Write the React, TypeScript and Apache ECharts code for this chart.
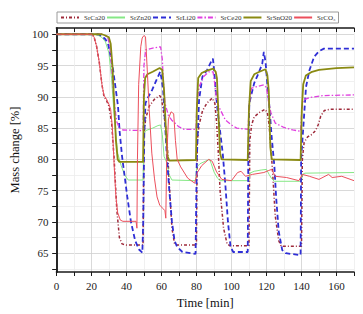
import React, { useEffect, useRef } from "react";
import * as echarts from "echarts";

const seriesNames = ["SrCa20", "SrZn20", "SrLi20", "SrCe20", "SrSnO20", "SrCO₃"];

const xLabelValues = [0, 20, 40, 60, 80, 100, 120, 140, 160];
const yLabelValues = [65, 70, 75, 80, 85, 90, 95, 100];
const yTickValues = [62.5, 65, 67.5, 70, 72.5, 75, 77.5, 80, 82.5, 85, 87.5, 90, 92.5, 95, 97.5, 100];

const srCa20 = [
  [0, 100], [20, 100], [21.5, 99.6], [23, 98], [24.5, 95.5], [26, 92], [27.2, 90], [28.5, 89.5], [30, 88.5],
  [31.5, 86], [33, 80], [34.5, 72], [36, 67.5], [37.5, 66.5], [40, 66.3], [49.5, 66.3], [50, 84], [51, 86.5],
  [53, 88.5], [56, 89.6], [59, 90.2], [60, 89.8], [61.5, 87], [63, 84], [64.5, 76], [66, 69], [67.5, 66.5],
  [69, 66.3], [80, 66.3], [80.5, 83], [81.5, 85.5], [83.5, 87.8], [86, 89], [89, 89.8], [90.5, 89], [91.5, 86],
  [92.5, 81], [93.5, 75], [95.5, 69], [97.5, 66.5], [99, 66.2], [110, 66.2], [110.5, 83], [111.5, 85.5],
  [113, 86.8], [116, 87.5], [119, 88], [120.5, 87.5], [121.5, 85.5], [122.5, 82], [123.5, 78], [125, 71],
  [127, 67], [128.5, 66.1], [140, 66.1], [140.5, 80], [141.5, 82.7], [143.5, 83.6], [146, 84], [148, 84.6],
  [149.5, 85.5], [151, 86.9], [153, 87.8], [156, 88], [170, 88],
];

const srZn20 = [
  [0, 100], [22, 100], [24, 99.8], [26, 99.5], [28, 98.8], [30, 97], [31.5, 93], [33, 87], [35, 81],
  [37, 79], [39, 77.5], [41, 76.7], [49.5, 76.7], [50, 84], [51, 84.6], [55, 85], [58, 85.4], [59.5, 85.5],
  [60.5, 84], [61.5, 80.5], [63, 79.5], [64.5, 77.5], [66, 76.7], [79.5, 76.6], [80.2, 78.8], [82, 79.3],
  [85, 79.7], [87.5, 80], [88.5, 79.3], [90, 78], [92, 77], [93.5, 76.6], [110, 76.6], [110.5, 77.8],
  [113, 78.1], [117, 78.3], [120, 78.4], [121.5, 77.6], [123, 76.9], [124.5, 76.5], [140, 76.5],
  [140.5, 77.6], [142, 77.8], [170, 77.9],
];

const srLi20 = [
  [0, 100], [24, 100], [26, 99.7], [28, 99.2], [29.5, 98.5], [31, 96.5], [32.4, 94.3], [34, 91], [35.2, 88.5],
  [36.1, 84.5], [37.5, 80.5], [38.9, 77.5], [40.5, 74], [42.6, 70], [45, 67], [47.2, 65.6], [49.1, 65.1],
  [49.6, 70], [50.2, 84], [50.9, 89], [52.5, 90], [54.7, 91.1], [57, 92.6], [59.3, 94], [60, 93],
  [61, 91], [62, 86], [63, 81], [64.5, 75], [66, 70], [67.5, 67], [69, 66], [72, 65.2], [79.5, 64.9],
  [80.2, 80], [81.5, 89.5], [83.4, 93.2], [86.1, 94.3], [88.9, 95.9], [89.4, 96.1], [90, 94.5], [91, 91],
  [92, 88], [93.5, 84.5], [95, 81], [96.5, 76], [98, 70], [99.5, 66], [101, 65.2], [109.3, 65.2],
  [109.6, 80], [110.2, 89], [113, 92.2], [115.5, 93.8], [117.6, 95.3], [118.5, 97.2], [119.5, 95.5],
  [120.5, 92], [121.5, 89], [123, 83.5], [124.5, 79], [125.5, 74], [127, 68.5], [129, 65.5], [131, 65],
  [139.5, 64.7], [139.8, 80], [142.6, 91.6], [144.5, 94.2], [147.2, 96.4], [150, 97.3], [152.8, 97.7],
  [170, 97.7],
];

const srCe20 = [
  [0, 100], [26, 100], [28, 99.8], [29.5, 99.3], [30.5, 98], [31.5, 95], [32.5, 91], [33.5, 88], [34.5, 86],
  [36, 85], [38, 84.7], [49.5, 84.6], [50, 95], [51, 97.5], [55, 97.8], [59.5, 98], [60.5, 96], [61.2, 92],
  [62, 89], [64, 87], [65.8, 86.3], [70, 85.2], [73, 84.8], [79.7, 84.8], [80.3, 89], [81.5, 91.6],
  [84, 93.2], [87, 94], [89.5, 94], [90.5, 92], [91.5, 89.5], [93, 88.3], [96.5, 86.3], [100, 85.5],
  [103, 85], [109.5, 84.8], [110.2, 89], [111.5, 91.4], [114, 91.6], [118.5, 91.9], [120, 91.5],
  [121, 89.5], [122.5, 87.5], [125, 85.8], [130, 85.1], [135, 84.7], [139.5, 84.5], [140.2, 88],
  [141, 89.5], [145, 89.9], [152, 90.2], [170, 90.3],
];

const srSnO20 = [
  [0, 100], [26, 100], [28, 99.8], [30, 99.5], [31, 98.5], [32, 95], [33, 89], [34, 83], [35, 80],
  [36, 79.6], [49.5, 79.6], [50, 90], [50.7, 93], [52, 93.6], [55, 94], [59, 94.6], [60.5, 94.3],
  [61.5, 91], [62.5, 85], [63.5, 80.5], [64.5, 79.8], [79.7, 79.9], [80.2, 88], [81, 93], [83, 93.8],
  [86, 94.2], [89.6, 94.5], [91, 94], [91.7, 93], [92.6, 87], [93.5, 81], [94.4, 80], [109.3, 79.9],
  [110, 88], [111, 92.5], [113, 93.6], [116, 94], [119.4, 94.4], [120.5, 93.5], [121.3, 91],
  [122.2, 82], [123, 80], [139.5, 79.9], [140.2, 88], [141, 92], [142.5, 93.4], [146, 94], [150, 94.3],
  [160, 94.6], [170, 94.7],
];

const srCO3 = [
  [0, 100], [20, 100], [21.5, 99.6], [23, 98], [24.5, 95.5], [26, 92], [27.2, 90.2], [28.5, 89.7],
  [30, 88.8], [31, 88], [32, 85], [33, 79], [34, 74], [35, 71.5], [36.5, 70.3], [38, 70.1], [45.5, 70.1],
  [46, 69], [46.3, 80], [47, 92], [48.2, 98], [49, 99.4], [50, 99.8], [50.9, 99.6], [51.9, 94.3],
  [53, 88], [54.5, 81], [56, 77], [57.5, 74], [59, 72.7], [61, 72.1], [62, 71.8], [62.5, 70.6],
  [63, 80], [64, 86.5], [65.5, 87.6], [67, 87.3], [68, 83], [69, 80], [71, 78.8], [75, 77], [79, 76.2],
  [80.5, 77.9], [83, 79], [87, 80], [89, 79.7], [91.5, 78], [94.5, 76.8], [100, 76.6], [103.5, 77.9],
  [105.5, 78.1], [108, 77.3], [112, 77.6], [118.5, 77.9], [121, 78.2], [123, 78.4], [125, 77.3],
  [131.5, 77.1], [138.5, 76.6], [140.5, 77.6], [144.5, 77.3], [150, 76.8], [155.5, 77.6], [157.5, 77.1],
  [163, 77.3], [170, 76.6],
];

const seriesData = [srCa20, srZn20, srLi20, srCe20, srSnO20, srCO3];

const FONT = "'Liberation Serif', 'DejaVu Serif', 'Times New Roman', serif";

const lineStyles = [
  { color: "#9E2A3A", width: 1.5, type: [3, 2, 1, 2] },
  { color: "#86E886", width: 1, type: "solid" },
  { color: "#2E2ED6", width: 1.8, type: [5, 3] },
  { color: "#E03FE0", width: 1.3, type: [5, 2, 1.5, 2] },
  { color: "#8A8A12", width: 1.8, type: "solid" },
  { color: "#EC4F5C", width: 1, type: "solid" },
];

export default function App() {
  const ref = useRef<HTMLDivElement>(null);

  useEffect(() => {
    document.body.style.margin = "0";
    if (!ref.current) return;
    const chart = echarts.init(ref.current, undefined, { renderer: "svg" });

    const axisLine = { show: true, lineStyle: { color: "#1a1a1a", width: 1.5 } };
    const gridColorsX = ["#cfcfcf", "#ececec"];
    const gridColorsY = ["#ececec", "#cfcfcf"];

    chart.setOption({
      animation: false,
      backgroundColor: "#ffffff",
      textStyle: { fontFamily: FONT },
      legend: {
        top: 12,
        left: 57,
        orient: "horizontal",
        borderColor: "#9a9a9a",
        borderWidth: 1,
        padding: [2, 3],
        itemWidth: 18,
        itemHeight: 7,
        itemGap: 1,
        itemStyle: { opacity: 0, borderWidth: 0 },
        textStyle: { fontFamily: FONT, fontSize: 7, color: "#333" },
        data: seriesNames,
      },
      grid: { left: 48, right: 9, top: 28, bottom: 41, containLabel: false },
      xAxis: [
        {
          type: "value",
          min: 0,
          max: 170,
          interval: 10,
          position: "bottom",
          axisLine,
          axisTick: { show: true, inside: false, length: 4, lineStyle: { color: "#1a1a1a", width: 1 } },
          axisLabel: {
            customValues: xLabelValues,
            margin: 8,
            fontFamily: FONT,
            fontSize: 11,
            color: "#222",
          },
          splitLine: { show: true, lineStyle: { color: gridColorsX, width: 0.8 } },
          name: "Time [min]",
          nameLocation: "middle",
          nameGap: 24,
          nameTextStyle: { fontFamily: FONT, fontSize: 12.5, color: "#111" },
        },
        {
          type: "value",
          min: 0,
          max: 170,
          interval: 10,
          position: "top",
          axisLine,
          axisTick: { show: true, inside: true, length: 4, lineStyle: { color: "#1a1a1a", width: 1 } },
          axisLabel: { show: false },
          splitLine: { show: false },
        },
      ],
      yAxis: [
        {
          type: "value",
          min: 62,
          max: 101,
          position: "left",
          axisLine,
          axisTick: {
            show: true,
            inside: false,
            length: 4,
            customValues: yTickValues,
            lineStyle: { color: "#1a1a1a", width: 1 },
          },
          axisLabel: {
            customValues: yLabelValues,
            margin: 8,
            fontFamily: FONT,
            fontSize: 11,
            color: "#222",
          },
          splitLine: { show: true, lineStyle: { color: gridColorsY, width: 0.8 } },
          name: "Mass change [%]",
          nameLocation: "middle",
          nameGap: 26,
          nameTextStyle: { fontFamily: FONT, fontSize: 12.5, color: "#111" },
        },
        {
          type: "value",
          min: 62,
          max: 101,
          position: "right",
          axisLine,
          axisTick: {
            show: true,
            inside: true,
            length: 4,
            customValues: yTickValues,
            lineStyle: { color: "#1a1a1a", width: 1 },
          },
          axisLabel: { show: false },
          splitLine: { show: false },
        },
      ],
      series: seriesNames.map((name, i) => ({
        name,
        type: "line",
        xAxisIndex: 0,
        yAxisIndex: 0,
        data: seriesData[i],
        showSymbol: false,
        symbol: "none",
        smooth: false,
        lineStyle: lineStyles[i],
        itemStyle: { color: lineStyles[i].color },
        emphasis: { disabled: true },
      })),
    });

    return () => chart.dispose();
  }, []);

  return <div ref={ref} style={{ width: 363, height: 314 }} />;
}
